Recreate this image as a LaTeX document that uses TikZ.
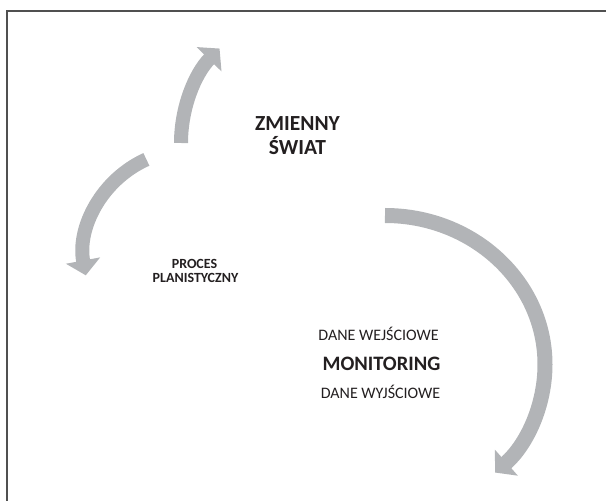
\documentclass[tikz,border=0pt]{standalone}
\usepackage{fontspec}
\setmainfont{Carlito}
\usetikzlibrary{arrows.meta}
\definecolor{arcgray}{RGB}{178,180,183}
\definecolor{framegray}{RGB}{80,80,80}
\definecolor{ink}{RGB}{35,31,32}
\tikzset{
  cyclearc/.style={draw=arcgray, line width=14pt, line cap=butt,
    -{Triangle[width=34pt,length=15pt]}},
  bigtitle/.style={inner sep=0pt, anchor=base, text=ink, font=\bfseries\fontsize{21.5}{24}\selectfont},
  smalltitle/.style={inner sep=0pt, anchor=base, text=ink, font=\bfseries\fontsize{14}{16}\selectfont},
  datatext/.style={inner sep=0pt, anchor=base, text=ink, font=\fontsize{16}{18}\selectfont},
  monitext/.style={inner sep=0pt, anchor=base, text=ink, font=\bfseries\fontsize{20.5}{24}\selectfont}
}
\begin{document}
\begin{tikzpicture}[x=1pt,y=1pt]
\useasboundingbox (0,0) rectangle (606,501);
% frame (only top and left edges visible)
\draw[framegray, line width=1.6pt] (7,0) -- (7,490) -- (606,490);
% arcs
\draw[cyclearc] (181,358) arc[start angle=180, end angle=135.6, radius=135];
\draw[cyclearc] ({190+106*cos(114.3)},{245+106*sin(114.3)}) arc[start angle=114.3, end angle=190.5, radius=106];
\draw[cyclearc, line width=15pt] (385,285.5) arc[start angle=90, end angle=-46.5, x radius=160, y radius=149];
% texts
\node[bigtitle] (zm) at (297.5,370) {ZMIENNY};
\node[bigtitle] (sw) at (297.5,346) {ŚWIAT};
\node[smalltitle] (pr) at (194.5,232) {PROCES};
\node[smalltitle] (pl) at (195.5,218) {PLANISTYCZNY};
\node[datatext] (dw) at (378.5,160) {DANE WEJŚCIOWE};
\node[monitext] (mo) at (381.5,130) {MONITORING};
\node[datatext] (dy) at (380.5,102) {DANE WYJŚCIOWE};
\end{tikzpicture}
\end{document}
